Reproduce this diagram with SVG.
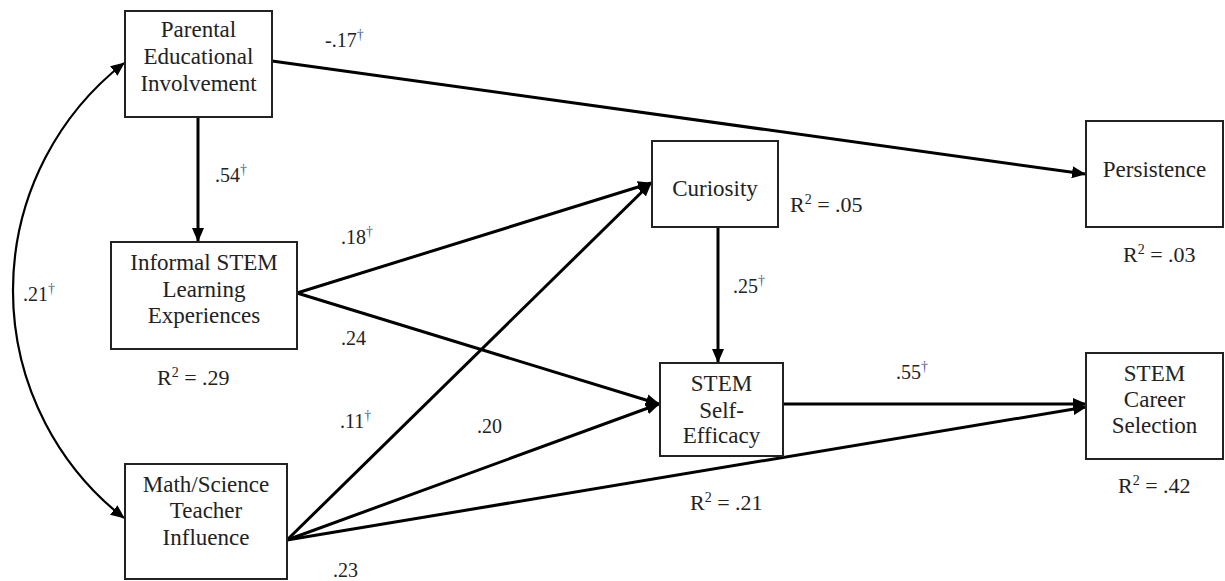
<svg xmlns="http://www.w3.org/2000/svg" width="1225" height="581" viewBox="0 0 1225 581">
<style>
.box{fill:#fff;stroke:#222;stroke-width:2}
.nt{font-family:"Liberation Serif","Times New Roman",serif;font-size:23px;fill:#222;text-anchor:middle}
.lb{font-family:"Liberation Serif","Times New Roman",serif;font-size:20px;fill:#222}
.r2{font-family:"Liberation Serif","Times New Roman",serif;font-size:22px;fill:#222}
.sup{font-size:14px}
.dg{font-size:14px;fill:#4a5d8f}
.edge{fill:none;stroke:#000;stroke-width:3}
.curve{fill:none;stroke:#000;stroke-width:2.2}
</style>
<defs>
<marker id="ah" markerUnits="userSpaceOnUse" markerWidth="14" markerHeight="12" viewBox="0 0 14 12" refX="13" refY="6" orient="auto">
<path d="M0,0 L14,6 L0,12 z" fill="#000"/>
</marker>
<marker id="ah2" markerUnits="userSpaceOnUse" markerWidth="14" markerHeight="12" viewBox="0 0 14 12" refX="13" refY="6" orient="auto-start-reverse">
<path d="M0,0 L14,6 L0,12 z" fill="#000"/>
</marker>
</defs>
<g id="connectors">
<path class="curve" d="M124,63 A288.6,288.6 0 0 0 124,518" marker-start="url(#ah2)" marker-end="url(#ah2)"/>
<line class="edge" x1="198" y1="117" x2="198" y2="241" marker-end="url(#ah)"/>
<line class="edge" x1="272" y1="61" x2="1085" y2="174" marker-end="url(#ah)"/>
<line class="edge" x1="297" y1="293" x2="651" y2="183" marker-end="url(#ah)"/>
<line class="edge" x1="297" y1="293" x2="659" y2="404" marker-end="url(#ah)"/>
<line class="edge" x1="287" y1="540" x2="651" y2="183" marker-end="url(#ah)"/>
<line class="edge" x1="287" y1="540" x2="659" y2="404" marker-end="url(#ah)"/>
<line class="edge" x1="287" y1="540" x2="1086" y2="407" marker-end="url(#ah)"/>
<line class="edge" x1="718" y1="227" x2="718" y2="362" marker-end="url(#ah)"/>
<line class="edge" x1="783" y1="404" x2="1086" y2="404" marker-end="url(#ah)"/>
</g>
<g id="parental">
<rect class="box" x="125" y="11" width="147" height="106"/>
<text class="nt" x="198.5" y="37">Parental</text>
<text class="nt" x="198.5" y="64">Educational</text>
<text class="nt" x="198.5" y="91">Involvement</text>
</g>
<g id="informal">
<rect class="box" x="111" y="242" width="186" height="107"/>
<text class="nt" x="204" y="270">Informal STEM</text>
<text class="nt" x="204" y="297">Learning</text>
<text class="nt" x="204" y="323">Experiences</text>
</g>
<g id="math">
<rect class="box" x="125" y="464" width="162" height="115"/>
<text class="nt" x="206" y="492">Math/Science</text>
<text class="nt" x="206" y="518">Teacher</text>
<text class="nt" x="206" y="545">Influence</text>
</g>
<g id="curiosity">
<rect class="box" x="652" y="141" width="126" height="86"/>
<text class="nt" x="715" y="196">Curiosity</text>
</g>
<g id="persistence">
<rect class="box" x="1086" y="121" width="137" height="106"/>
<text class="nt" x="1154.5" y="177">Persistence</text>
</g>
<g id="selfefficacy">
<rect class="box" x="660" y="363" width="123" height="93"/>
<text class="nt" x="721.5" y="391">STEM</text>
<text class="nt" x="721.5" y="418">Self-</text>
<text class="nt" x="721.5" y="443">Efficacy</text>
</g>
<g id="career">
<rect class="box" x="1086" y="353" width="137" height="106"/>
<text class="nt" x="1154.5" y="381">STEM</text>
<text class="nt" x="1154.5" y="407">Career</text>
<text class="nt" x="1154.5" y="433">Selection</text>
</g>
<g id="labels">
<text class="lb" x="325" y="47">-.17<tspan class="dg" dy="-8">†</tspan></text>
<text class="lb" x="215" y="182">.54<tspan class="dg" dy="-8">†</tspan></text>
<text class="lb" x="23" y="301">.21<tspan class="dg" dy="-8">†</tspan></text>
<text class="lb" x="341" y="244">.18<tspan class="dg" dy="-8">†</tspan></text>
<text class="lb" x="341" y="345">.24</text>
<text class="lb" x="340" y="428">.11<tspan class="dg" dy="-8">†</tspan></text>
<text class="lb" x="333" y="577">.23</text>
<text class="lb" x="477" y="433">.20</text>
<text class="lb" x="733" y="293">.25<tspan class="dg" dy="-8">†</tspan></text>
<text class="lb" x="896" y="379">.55<tspan class="dg" dy="-8">†</tspan></text>
<text class="r2" x="157" y="385">R<tspan class="sup" dy="-8">2</tspan><tspan dy="8"> = .29</tspan></text>
<text class="r2" x="790" y="212">R<tspan class="sup" dy="-8">2</tspan><tspan dy="8"> = .05</tspan></text>
<text class="r2" x="1123" y="262">R<tspan class="sup" dy="-8">2</tspan><tspan dy="8"> = .03</tspan></text>
<text class="r2" x="690" y="510">R<tspan class="sup" dy="-8">2</tspan><tspan dy="8"> = .21</tspan></text>
<text class="r2" x="1118" y="493">R<tspan class="sup" dy="-8">2</tspan><tspan dy="8"> = .42</tspan></text>
</g>
</svg>
